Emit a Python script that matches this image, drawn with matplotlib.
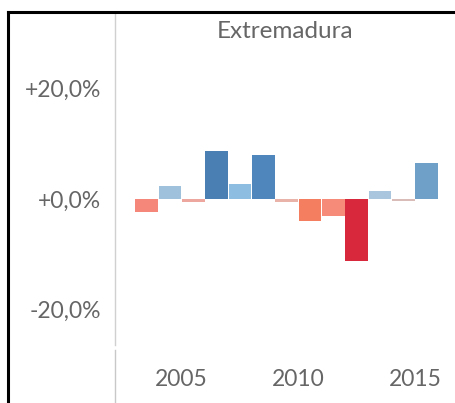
import matplotlib
matplotlib.use("Agg")
import matplotlib.pyplot as plt
from matplotlib.lines import Line2D

years = [2004, 2005, 2006, 2007, 2008, 2009, 2010, 2011, 2012, 2013, 2014, 2015, 2016]
values = [-2.3, 2.4, -0.5, 8.6, 2.8, 7.9, -0.5, -4.0, -3.1, -11.3, 1.4, -0.3, 6.6]
bar_colors = ["#f4877a", "#9fc1dc", "#eea79e", "#4a7fb4", "#8dbde1", "#4f86bb",
              "#e9b3aa", "#f47f60", "#f68b7a", "#d7283c", "#a9c6de", "#d9bcb8", "#6fa0c8"]
yticks = [-20, 0, 20]
ytick_labels = ["-20,0%", "+0,0%", "+20,0%"]
xticks = [2005, 2010, 2015]
xtick_labels = ["2005", "2010", "2015"]
title = "Extremadura"

W, H = 456, 403
fig = plt.figure(figsize=(W / 100, H / 100), dpi=100)
fig.patch.set_facecolor("white")

ax_left, ax_right, ax_top, ax_bottom = 115, 456, 13, 345
ax = fig.add_axes([ax_left / W, 1 - ax_bottom / H, (ax_right - ax_left) / W, (ax_bottom - ax_top) / H])

px_per_pct = 110.5 / 20
zero_y = 199
ax.set_ylim(-(ax_bottom - zero_y) / px_per_pct, (zero_y - ax_top) / px_per_pct)
px_per_year = (415 - 181.7) / 10
ax.set_xlim(2005 - (181.7 - ax_left) / px_per_year, 2015 + (ax_right - 415) / px_per_year)

xs = [y - 0.5 for y in years]
ax.bar(xs, values, width=0.97, color=bar_colors, linewidth=0)

font = ["Lato", "DejaVu Sans"]
tc = "#666666"
ax.set_yticks(yticks)
ax.set_yticklabels(ytick_labels, family=font, fontsize=16.5, color=tc)
ax.set_xticks(xticks)
ax.set_xticklabels(xtick_labels, family=font, fontsize=16.5, color=tc)
ax.tick_params(axis="y", length=0, pad=10)
ax.tick_params(axis="x", length=0, pad=17)

for s in ["top", "right", "bottom"]:
    ax.spines[s].set_visible(False)
ax.spines["left"].set_color("#d0d0d0")
ax.spines["left"].set_linestyle((0, (1, 1)))
ax.spines["left"].set_linewidth(1.0)

fig.text(285 / W, 1 - 32 / H, title, ha="center", va="center", family=font,
         fontsize=17.5, color=tc)

# x header divider
fig.add_artist(Line2D([ax_left / W, ax_left / W], [1 - 350 / H, 0], color="#c8c8c8", lw=1.0))
# black frame
fig.add_artist(Line2D([8 / W, 1.0], [1 - 12 / H, 1 - 12 / H], color="black", lw=2.2))
fig.add_artist(Line2D([8 / W, 8 / W], [1 - 12 / H, 0], color="black", lw=2.2))

fig.savefig("out.png", dpi=100)
